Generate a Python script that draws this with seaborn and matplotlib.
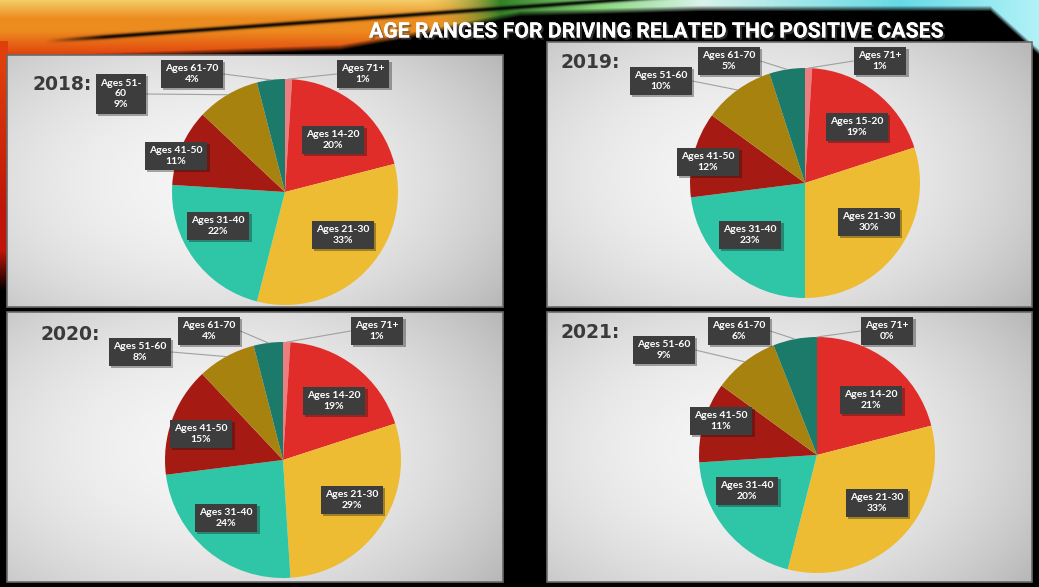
import matplotlib.pyplot as plt
import matplotlib.patheffects as pe
from matplotlib.patches import Rectangle
import numpy as np
import seaborn as sns

TITLE = "AGE RANGES FOR DRIVING RELATED THC POSITIVE CASES"
YEARS = ["2018:", "2019:", "2020:", "2021:"]

# slices run clockwise from 12 o'clock in this order
AGE_GROUPS_2018 = ["Ages 71+", "Ages 14-20", "Ages 21-30", "Ages 31-40",
                   "Ages 41-50", "Ages 51-\n60", "Ages 61-70"]
AGE_GROUPS_2019 = ["Ages 71+", "Ages 15-20", "Ages 21-30", "Ages 31-40",
                   "Ages 41-50", "Ages 51-60", "Ages 61-70"]
AGE_GROUPS_2020 = ["Ages 71+", "Ages 14-20", "Ages 21-30", "Ages 31-40",
                   "Ages 41-50", "Ages 51-60", "Ages 61-70"]
AGE_GROUPS_2021 = ["Ages 71+", "Ages 14-20", "Ages 21-30", "Ages 31-40",
                   "Ages 41-50", "Ages 51-60", "Ages 61-70"]

SHARE_2018 = [1, 20, 33, 22, 11, 9, 4]
SHARE_2019 = [1, 19, 30, 23, 12, 10, 5]
SHARE_2020 = [1, 19, 29, 24, 15, 8, 4]
SHARE_2021 = [0, 21, 33, 20, 11, 9, 6]

SLICE_COLORS = ["#EE7D80", "#E02D2A", "#EDBC32", "#2FC5A7",
                "#A51A13", "#A8820F", "#1C7A6B"]

# ---- layout (pixels, measured from the top-left corner) ----
W, H = 1039, 587
PANELS = [(7, 55, 503, 307), (547, 42, 1032, 307),
          (7, 312, 503, 582), (547, 312, 1032, 582)]
PIES = [(285, 192, 113), (805, 183, 115), (283, 460, 118), (817, 455, 118)]
YEAR_POS = [(33, 84), (560, 62), (40, 334), (560, 332)]
LABEL_OFFSETS = [
    [(78, -118), (48, -52), (58, 43), (-67, 34), (-109, -36), (-164, -98), (-93, -118)],
    [(75, -122), (52, -56), (64, 39), (-55, 52), (-97, -21), (-144, -102), (-76, -122)],
    [(94, -129), (51, -59), (69, 40), (-57, 58), (-82, -26), (-143, -108), (-74, -129)],
    [(70, -124), (54, -55), (60, 48), (-70, 36), (-96, -34), (-153, -105), (-78, -124)],
]
LEADER_SLICES = [0, 5, 6]


def make_background() -> np.ndarray:
    """Black slide with the warm/cool swoosh along the top."""
    yy, xx = np.mgrid[0:H, 0:W].astype(float)
    img = np.zeros((H, W, 3))

    gold = np.array([0.96, 0.80, 0.40])
    orange = np.array([0.93, 0.55, 0.12])
    red = np.array([0.88, 0.25, 0.05])
    t1 = np.clip(yy / 18.0, 0, 1)[..., None]
    t2 = np.clip((yy - 30) / 25.0, 0, 1)[..., None]
    warm = gold * (1 - t1) + orange * t1
    warm = warm * (1 - t2) + red * t2

    stops_x = [0, 430, 500, 600, 700, 900, 1039]
    stops_c = np.array([[0.96, 0.80, 0.40], [0.92, 0.70, 0.25], [0.20, 0.50, 0.15],
                        [0.55, 0.85, 0.50], [0.85, 0.95, 0.92], [0.40, 0.85, 0.90],
                        [0.70, 0.95, 0.97]])
    cool = np.stack([np.interp(xx, stops_x, stops_c[:, k]) for k in range(3)], axis=-1)
    w = np.clip((xx - 420) / 80.0, 0, 1)[..., None]
    top_col = warm * (1 - w) + cool * w

    edge = np.interp(xx, [0, 340, 420, 520, 700, 1039], [62, 50, 36, 16, 11, 11])
    edge = edge + np.clip((xx - 990) * 0.9, 0, 60)
    mask = np.clip((edge - yy) / 6.0, 0, 1)[..., None]
    img = img * (1 - mask) + top_col * mask

    # dark streak cutting through the warm swoosh
    d = yy - (44 - 0.072 * xx)
    streak = np.exp(-(d / 2.2) ** 2) * np.clip((xx - 45) / 60.0, 0, 1)
    img = img * (1 - 0.9 * streak)[..., None]

    s = np.clip((yy - 60) / 150.0, 0, 1)[..., None]
    strip_col = red * (1 - s) + np.array([0.75, 0.08, 0.03]) * s
    strip = ((xx < 8) & (yy > 40)).astype(float) * np.clip((290 - yy) / 40.0, 0, 1)
    strip = strip[..., None]
    img = img * (1 - strip) + strip_col * strip
    return np.clip(img, 0, 1)


def panel_gradient(width: int, height: int) -> np.ndarray:
    yy, xx = np.mgrid[0:height, 0:width].astype(float)
    dx = (xx - width * 0.42) / (width * 0.6)
    dy = (yy - height * 0.5) / (height * 0.7)
    v = 0.96 - 0.17 * (dx ** 2 + dy ** 2)
    return np.clip(np.dstack([v, v, v]), 0, 1)


def draw_chart() -> None:
    sns.set_theme(style="white")
    palette = sns.color_palette(SLICE_COLORS)

    fig = plt.figure(figsize=(W / 100, H / 100), dpi=100)
    fig.patch.set_facecolor("black")
    ax = fig.add_axes([0, 0, 1, 1])
    ax.imshow(make_background(), extent=(0, W, 0, H), zorder=0,
              interpolation="bilinear")

    ax.text(656, H - 32, TITLE, ha="center", va="center", color="white",
            fontsize=15.3, fontweight="bold", fontfamily="Roboto", zorder=5,
            path_effects=[pe.withSimplePatchShadow(offset=(1.5, -1.5), alpha=0.6),
                          pe.Normal()])

    years_data = [
        (AGE_GROUPS_2018, SHARE_2018),
        (AGE_GROUPS_2019, SHARE_2019),
        (AGE_GROUPS_2020, SHARE_2020),
        (AGE_GROUPS_2021, SHARE_2021),
    ]

    leader_jobs = []
    for i, (labels, shares) in enumerate(years_data):
        left, top, right, bottom = PANELS[i]
        ax.imshow(panel_gradient(right - left, bottom - top),
                  extent=(left, right, H - bottom, H - top), zorder=1)
        ax.add_patch(Rectangle((left, H - bottom), right - left, bottom - top,
                               fill=False, ec="#6a6a6a", lw=1.2, zorder=2))

        yx, yy = YEAR_POS[i]
        ax.text(yx, H - yy, YEARS[i], ha="left", va="center", color="#3a3a3a",
                fontsize=13.5, fontweight="bold", fontfamily="DejaVu Sans", zorder=5)

        cx, cy, r = PIES[i]
        wedges, _ = ax.pie(shares, colors=palette, startangle=90, counterclock=False,
                           center=(cx, H - cy), radius=r, frame=True,
                           wedgeprops=dict(linewidth=0, zorder=3))

        for j, (label, value) in enumerate(zip(labels, shares)):
            dx, dy = LABEL_OFFSETS[i][j]
            txt = ax.text(cx + dx, H - (cy + dy), f"{label}\n{value}%",
                          ha="center", va="center", color="white", fontsize=7.5,
                          fontweight="bold", fontfamily="Lato", linespacing=1.2,
                          zorder=6,
                          bbox=dict(boxstyle="square,pad=0.45", fc="#3d3d3d", ec="none"))
            txt.get_bbox_patch().set_path_effects(
                [pe.withSimplePatchShadow(offset=(1.5, -1.5), alpha=0.35), pe.Normal()])
            if j in LEADER_SLICES:
                wedge = wedges[j]
                mid = np.deg2rad((wedge.theta1 + wedge.theta2) / 2)
                px = cx + r * np.cos(mid)
                py = H - cy + r * np.sin(mid)
                leader_jobs.append((txt, px, py))

    ax.set_xlim(0, W)
    ax.set_ylim(0, H)
    ax.set_aspect("auto")
    ax.axis("off")

    fig.canvas.draw()
    renderer = fig.canvas.get_renderer()
    for txt, px, py in leader_jobs:
        bb = txt.get_bbox_patch().get_window_extent(renderer)
        bx = bb.x1 if px > bb.x1 else bb.x0
        by = (bb.y0 + bb.y1) / 2
        ax.plot([bx, px], [by, py], color="#a0a0a0", lw=0.8, zorder=4)

    fig.savefig("out.png", dpi=100, facecolor="black")
    plt.close(fig)


if __name__ == "__main__":
    draw_chart()
